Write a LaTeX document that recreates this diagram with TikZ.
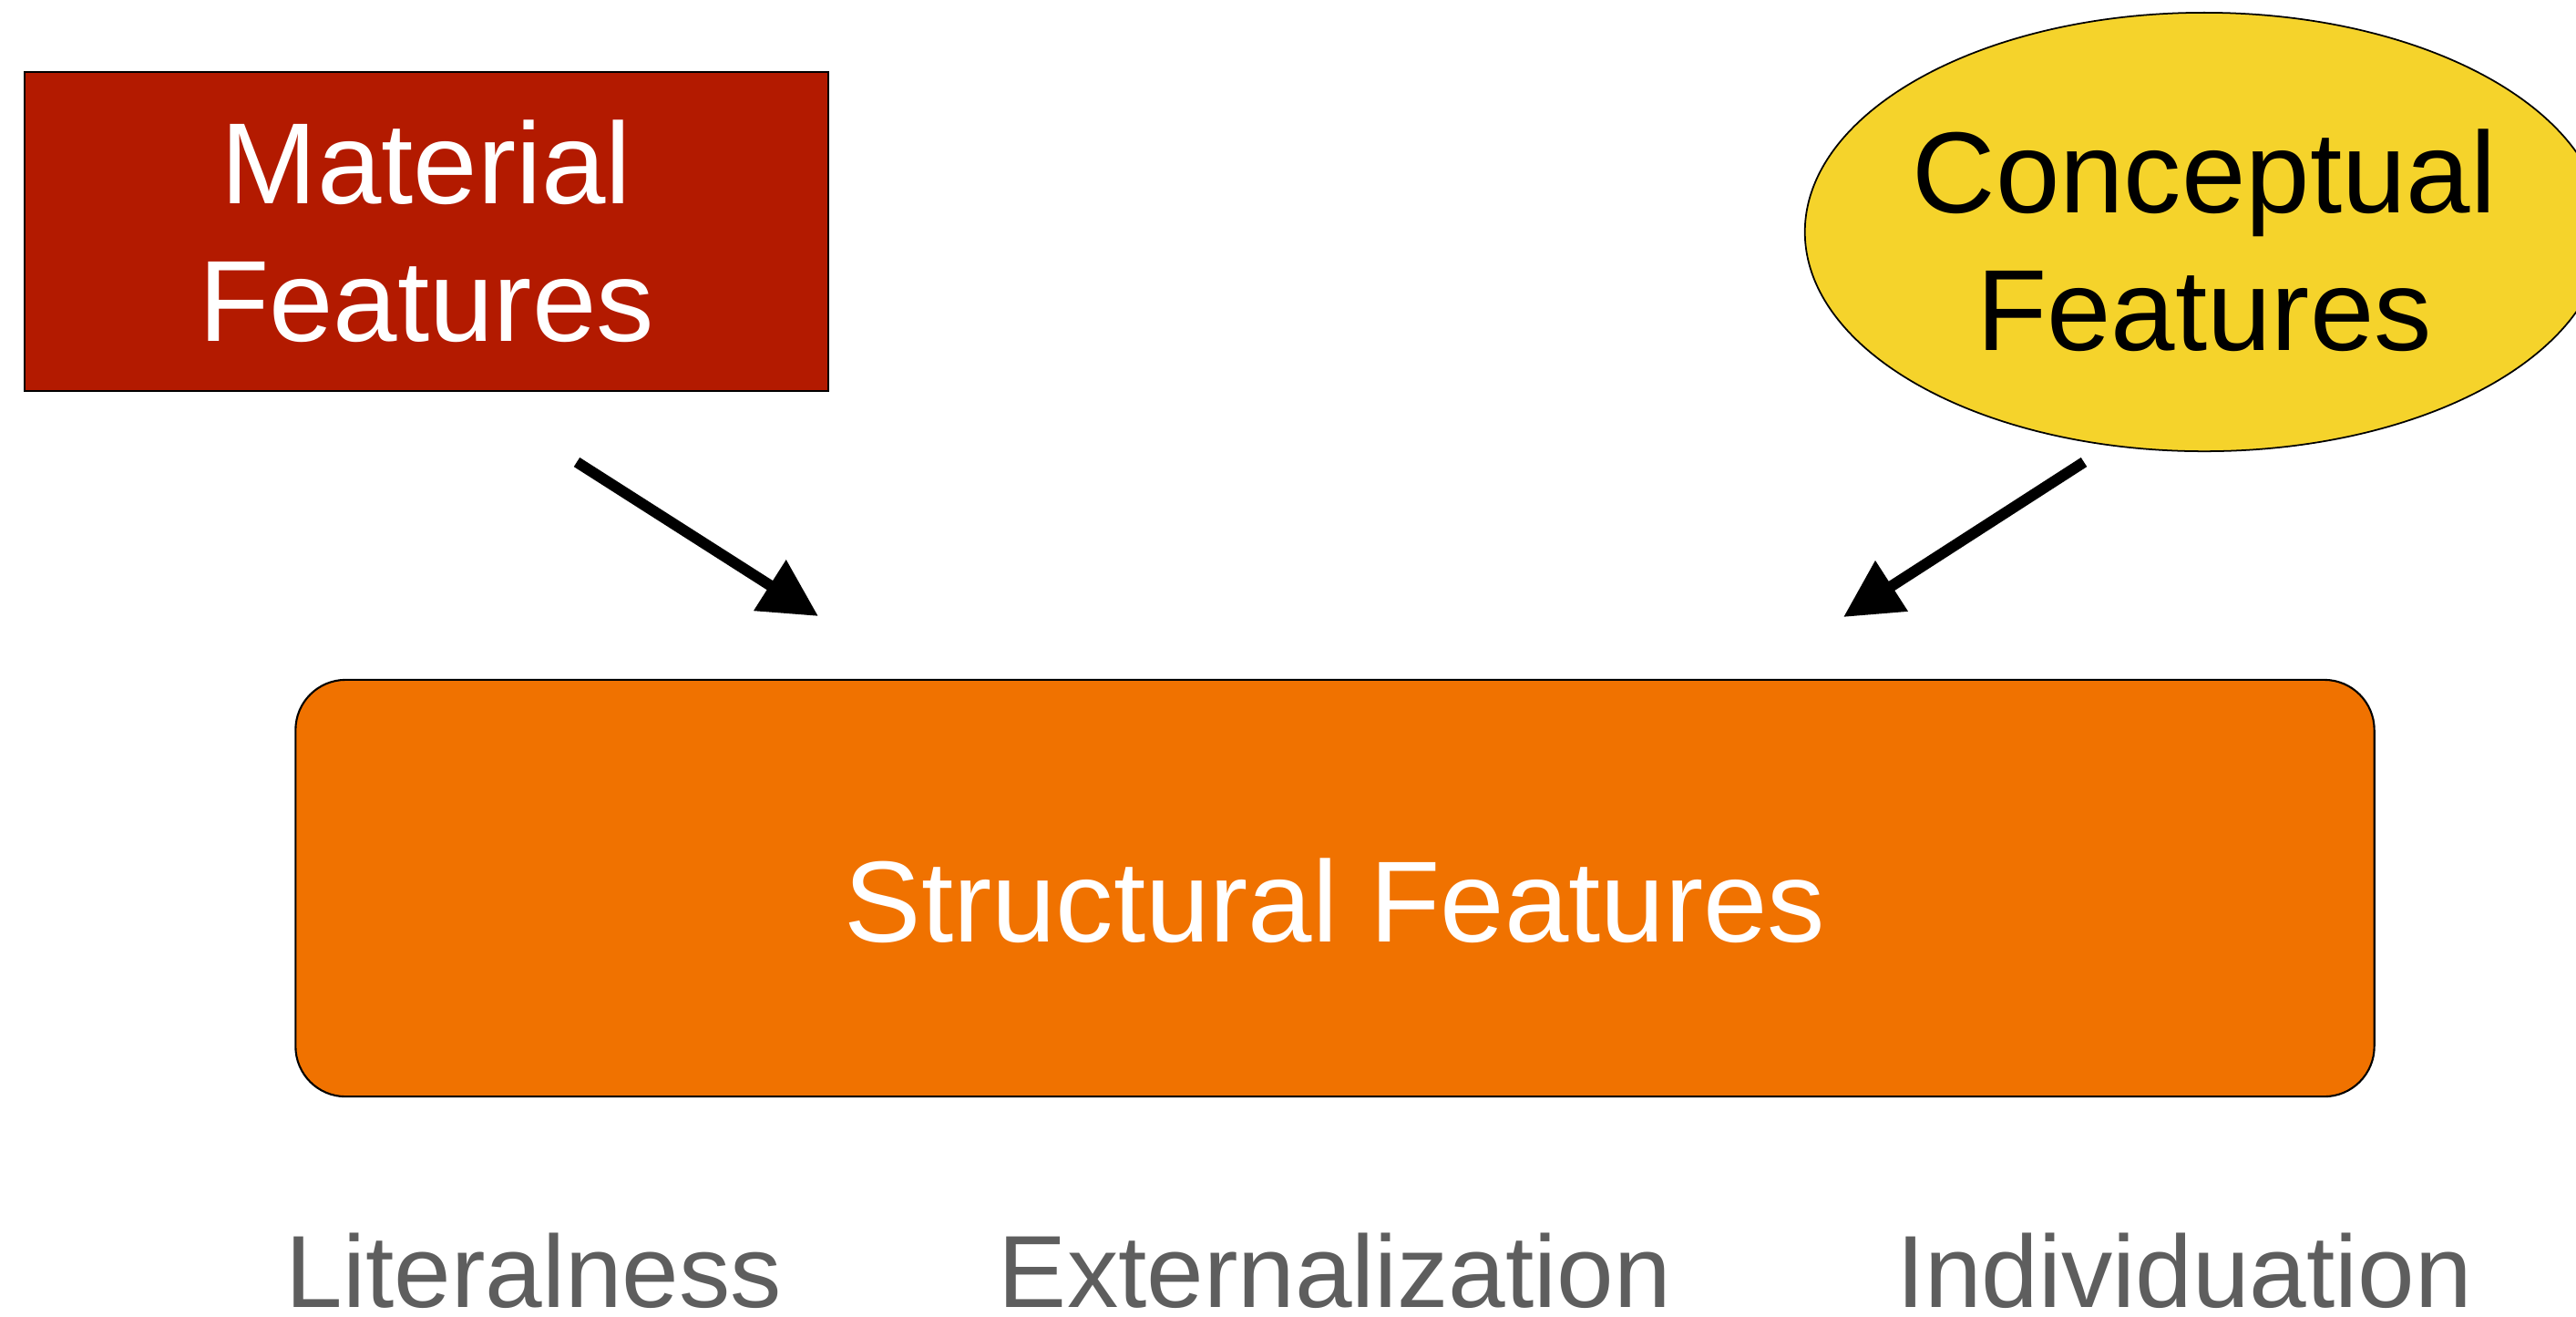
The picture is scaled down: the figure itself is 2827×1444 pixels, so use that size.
\documentclass[tikz,border=0pt]{standalone}
\usepackage{fontspec}
\setmainfont{Liberation Sans}
\usetikzlibrary{arrows.meta,shapes.geometric}
\definecolor{matred}{HTML}{B31A00}
\definecolor{concyellow}{HTML}{F5D32B}
\definecolor{structorange}{HTML}{F07200}
\definecolor{labelgray}{HTML}{5E5E5E}
\tikzset{
  bigtext/.style={font=\fontsize{36}{43}\selectfont},
  featarrow/.style={line width=0.12cm,-{Triangle[length=0.63cm,width=0.63cm]}},
  dimlabel/.style={anchor=base,text=labelgray,font=\fontsize{32}{38}\selectfont,inner sep=0pt},
}
\begin{document}
\begin{tikzpicture}[x=0.01cm,y=-0.01cm]
\useasboundingbox (0,0) rectangle (2827,1444);
% Material features
\node[draw=black,line width=0.6pt,fill=matred,text=white,bigtext,align=center,
      minimum width=8.82cm,minimum height=3.5cm,inner sep=0pt] (mat) at (468,254)
      {Material\\Features};
% Conceptual features
\node[draw=black,line width=0.5pt,fill=concyellow,ellipse,
      minimum width=8.76cm,minimum height=4.81cm,inner sep=0pt] (conc) at (2419,254.5) {};
\node[bigtext,align=center,text=black,inner sep=0pt] (conctext) at (2419,264)
      {Conceptual\\Features};
% Structural features
\node[draw=black,line width=0.6pt,fill=structorange,rounded corners=0.55cm,text=white,bigtext,
      minimum width=22.8cm,minimum height=4.57cm,inner sep=0pt,text height=1.18cm,text depth=0pt]
      (struct) at (1465,974.5) {Structural Features};
% arrow end points
\coordinate (ms) at (633,507);
\coordinate (mt) at (898,676);
\coordinate (cs) at (2287,507);
\coordinate (ct) at (2023,677);
\draw[featarrow] (ms) -- (mt);
\draw[featarrow] (cs) -- (ct);
% bottom labels
\node[dimlabel] (lit) at (586,1434) {Literalness};
\node[dimlabel] (ext) at (1465,1434) {Externalization};
\node[dimlabel] (ind) at (2397,1434) {Individuation};
\end{tikzpicture}
\end{document}
